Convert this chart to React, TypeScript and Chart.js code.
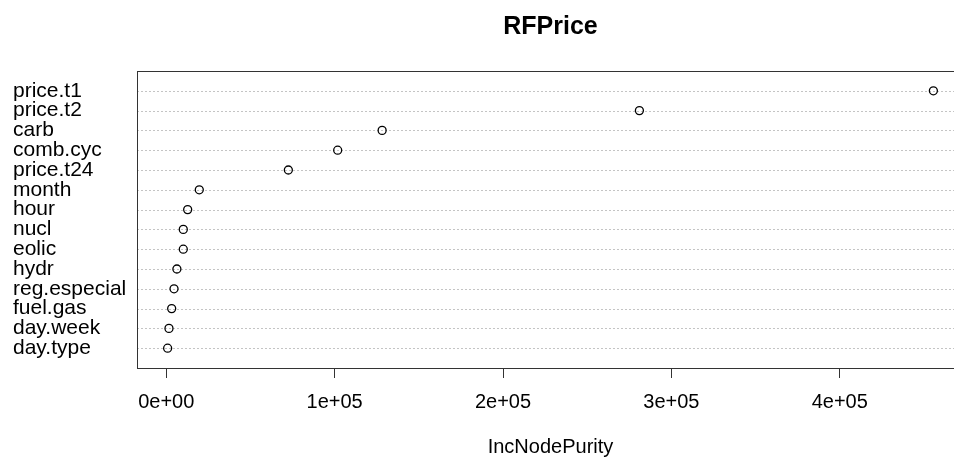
import React, { useEffect, useRef } from "react";
import { Chart, registerables } from "chart.js";

Chart.register(...registerables);

const TITLE = "RFPrice";
const X_LABEL = "IncNodePurity";
const variables = [
  "price.t1", "price.t2", "carb", "comb.cyc", "price.t24", "month", "hour",
  "nucl", "eolic", "hydr", "reg.especial", "fuel.gas", "day.week", "day.type",
];
const incNodePurity = [
  455600, 281000, 128200, 101800, 72500, 19600, 12700,
  10100, 10100, 6300, 4600, 3200, 1600, 800,
];
const xTickValues = [0, 100000, 200000, 300000, 400000];
const xTickLabels = ["0e+00", "1e+05", "2e+05", "3e+05", "4e+05"];

const FONT = "'Liberation Sans', Arial, sans-serif";

export default function App() {
  const ref = useRef<HTMLCanvasElement | null>(null);

  useEffect(() => {
    const canvas = ref.current;
    if (!canvas) return;
    const n = variables.length;
    const minV = Math.min(...incNodePurity);
    const maxV = Math.max(...incNodePurity);
    const pad = (maxV - minV) * 0.04;

    const decor = {
      id: "decor",
      beforeDatasetsDraw(chart: any) {
        const { ctx, chartArea } = chart;
        const ys = chart.scales.y;
        ctx.save();
        ctx.strokeStyle = "#c4c4c4";
        ctx.lineWidth = 1;
        ctx.setLineDash([2, 2]);
        for (let i = 0; i < n; i++) {
          const y = Math.round(ys.getPixelForValue(n - i)) + 0.5;
          ctx.beginPath();
          ctx.moveTo(chartArea.left, y);
          ctx.lineTo(chartArea.right, y);
          ctx.stroke();
        }
        ctx.restore();
      },
      afterDraw(chart: any) {
        const { ctx, chartArea } = chart;
        ctx.save();
        ctx.strokeStyle = "#333";
        ctx.lineWidth = 1;
        ctx.strokeRect(
          Math.round(chartArea.left) + 0.5,
          Math.round(chartArea.top) + 0.5,
          Math.round(chartArea.right - chartArea.left),
          Math.round(chartArea.bottom - chartArea.top)
        );
        const cx = (chartArea.left + chartArea.right) / 2;
        ctx.fillStyle = "#000";
        ctx.textAlign = "center";
        ctx.textBaseline = "alphabetic";
        ctx.font = `bold 25px ${FONT}`;
        ctx.fillText(TITLE, cx, 34);
        ctx.font = `20px ${FONT}`;
        ctx.fillText(X_LABEL, cx, 453);
        ctx.restore();
      },
    };

    const chart = new Chart(canvas, {
      type: "scatter",
      data: {
        datasets: [
          {
            data: incNodePurity.map((v, i) => ({ x: v, y: n - i })),
            pointStyle: "circle",
            pointRadius: 4,
            pointBorderWidth: 1.3,
            borderColor: "#000",
            backgroundColor: "rgba(255,255,255,0)",
          },
        ],
      },
      options: {
        animation: false,
        responsive: false,
        maintainAspectRatio: false,
        layout: { padding: { top: 71, left: 13, right: 11, bottom: 0 } },
        plugins: {
          legend: { display: false },
          tooltip: { enabled: false },
          title: { display: false },
        },
        scales: {
          x: {
            type: "linear",
            min: minV - pad,
            max: maxV + pad,
            afterBuildTicks: (s: any) => {
              s.ticks = xTickValues.map((v) => ({ value: v }));
            },
            afterFit: (s: any) => {
              s.height = 90;
            },
            ticks: {
              callback: (_v: any, i: number) => xTickLabels[i],
              font: { family: FONT, size: 20 },
              color: "#000",
              padding: 12,
              maxRotation: 0,
              autoSkip: false,
            },
            grid: {
              drawOnChartArea: false,
              drawTicks: true,
              tickLength: 10,
              color: "#333",
            },
            border: { display: false },
          },
          y: {
            type: "linear",
            min: 0,
            max: n + 1,
            afterBuildTicks: (s: any) => {
              s.ticks = variables.map((_, i) => ({ value: n - i }));
            },
            afterFit: (s: any) => {
              s.width = 124;
            },
            ticks: {
              callback: (v: any) => variables[n - Number(v)],
              font: { family: FONT, size: 21 },
              color: "#000",
              crossAlign: "far",
              autoSkip: false,
            },
            grid: { display: false },
            border: { display: false },
          },
        },
      },
      plugins: [decor],
    } as any);

    return () => chart.destroy();
  }, []);

  return (
    <div
      style={{
        position: "fixed",
        left: 0,
        top: 0,
        width: 954,
        height: 458,
        overflow: "hidden",
        background: "#fff",
      }}
    >
      <canvas ref={ref} width={975} height={458} style={{ width: 975, height: 458, display: "block" }} />
    </div>
  );
}
